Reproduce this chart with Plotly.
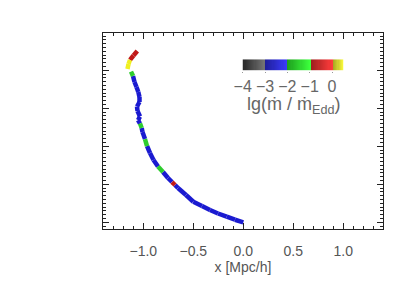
import plotly.graph_objects as go

# Trajectory (Mpc/h), None marks a break in the track
traj_x = [-1.060, -1.098, -1.133, -1.148, -1.158, None,
          -1.123, -1.103, -1.088, -1.068, -1.050, -1.038, -1.038, -1.063, -1.058,
          -1.033, -1.053, -1.033, -1.016, -1.008, -0.983, -0.963, -0.933, -0.898,
          -0.853, -0.803, -0.753, -0.713, -0.683, -0.653, -0.573, -0.500, -0.413, -0.333,
          -0.253, -0.166, -0.083, 0.0]
traj_y = [2.254, 2.195, 2.136, 2.083, 2.017, None,
          1.982, 1.925, 1.846, 1.780, 1.714, 1.649, 1.583, 1.524, 1.464,
          1.392, 1.346, 1.300, 1.241, 1.188, 1.096, 1.004, 0.912, 0.820,
          0.734, 0.662, 0.583, 0.530, 0.491, 0.451, 0.359, 0.271, 0.214, 0.162,
          0.116, 0.074, 0.034, 0.0]
# lg(mdot / mdot_Edd) along the track
lg_mdot = [-0.5, -0.5, 0.2, 0.2, 0.2, None,
           -1.8, -2.5, -2.5, -2.5, -2.5, -2.5, -2.5, -2.5, -2.5,
           -2.5, -2.5, -1.5, -2.5, -2.5, -1.5, -2.5, -2.5, -2.5,
           -1.5, -2.5, -2.5, -0.5, -2.5, -2.5, -2.5, -2.5, -2.5,
           -2.5, -2.5, -2.5, -2.5, -2.5]

cbar_ticks = [-4, -3, -2, -1, 0]
cbar_ticktext = ["\u22124", "\u22123", "\u22122", "\u22121", "0"]
x_ticks = [-1.0, -0.5, 0.0, 0.5, 1.0]
x_ticktext = ["\u22121.0", "\u22120.5", "0.0", "0.5", "1.0"]

bins = [(-4, -3, "#333333"), (-3, -2, "#1a1ad0"), (-2, -1, "#2ecc2e"),
        (-1, 0, "#c01818"), (0, 0.6, "#f0f020")]

fig = go.Figure()

for lo, hi, col in bins:
    xs, ys = [], []
    for i in range(len(traj_x) - 1):
        v = lg_mdot[i]
        if traj_x[i] is None or traj_x[i + 1] is None or v is None:
            continue
        if lo <= v < hi:
            xs += [traj_x[i], traj_x[i + 1], None]
            ys += [traj_y[i], traj_y[i + 1], None]
    if xs:
        fig.add_trace(go.Scatter(x=xs, y=ys, mode="lines",
                                 line=dict(color=col, width=4.5),
                                 hoverinfo="skip", showlegend=False))

# colour bar as heatmap
cb_x = [-4 + 0.05 * k for k in range(91)]
cscale = [[0, "#262626"], [0.2222, "#767676"], [0.2222, "#1e1e9a"], [0.4444, "#3c3cff"],
          [0.4444, "#1ea01e"], [0.6667, "#3cff3c"], [0.6667, "#9a1e1e"], [0.8889, "#ff3c3c"],
          [0.8889, "#a0a01e"], [1, "#ffff3c"]]
fig.add_trace(go.Heatmap(x=cb_x, y=[0], z=[cb_x], zmin=-4, zmax=0.5, colorscale=cscale,
                         showscale=False, xaxis="x2", yaxis="y2", hoverinfo="skip"))

axis_font = dict(family="Liberation Sans, Arial, sans-serif", size=14, color="#555555")

fig.update_layout(
    width=406, height=288,
    margin=dict(l=95, r=31, t=25, b=67),
    paper_bgcolor="white", plot_bgcolor="white",
    showlegend=False,
    xaxis=dict(range=[-1.403, 1.397], tickvals=x_ticks, ticktext=x_ticktext,
               ticks="inside", ticklen=6, tickcolor="#222", showline=True, linecolor="#222",
               linewidth=1.2, mirror="ticks", showgrid=False, zeroline=False,
               tickfont=axis_font, ticklabelstandoff=9,
               minor=dict(dtick=0.1, tick0=0, ticks="inside", ticklen=3, tickcolor="#222", showgrid=False),
               title=dict(text="x [Mpc/h]", font=axis_font, standoff=4)),
    yaxis=dict(range=[-0.088, 2.491], tick0=0, dtick=0.5, showticklabels=False,
               ticks="inside", ticklen=6, tickcolor="#222", showline=True, linecolor="#222",
               linewidth=1.2, mirror="ticks", showgrid=False, zeroline=False,
               minor=dict(dtick=0.05, tick0=0, ticks="inside", ticklen=3, tickcolor="#222", showgrid=False)),
    xaxis2=dict(domain=[0.499, 0.858], anchor="y2", range=[-4, 0.5],
                tickvals=cbar_ticks, ticktext=cbar_ticktext, ticks="outside", ticklen=1,
                tickcolor="#999", showline=False, showgrid=False, zeroline=False,
                tickfont=dict(family="Liberation Sans, Arial, sans-serif", size=16, color="#666666")),
    yaxis2=dict(domain=[0.808, 0.866], anchor="x2", range=[-0.5, 0.5], showticklabels=False,
                showgrid=False, zeroline=False, showline=False, ticks=""),
    annotations=[dict(text="lg(\u1e41 / \u1e41<sub>Edd</sub>)", x=0.68, y=0.628,
                      xref="paper", yref="paper", showarrow=False,
                      xanchor="center", yanchor="middle",
                      font=dict(family="Liberation Sans, Arial, sans-serif", size=18, color="#666666"))],
)

fig.write_html("out.html")
